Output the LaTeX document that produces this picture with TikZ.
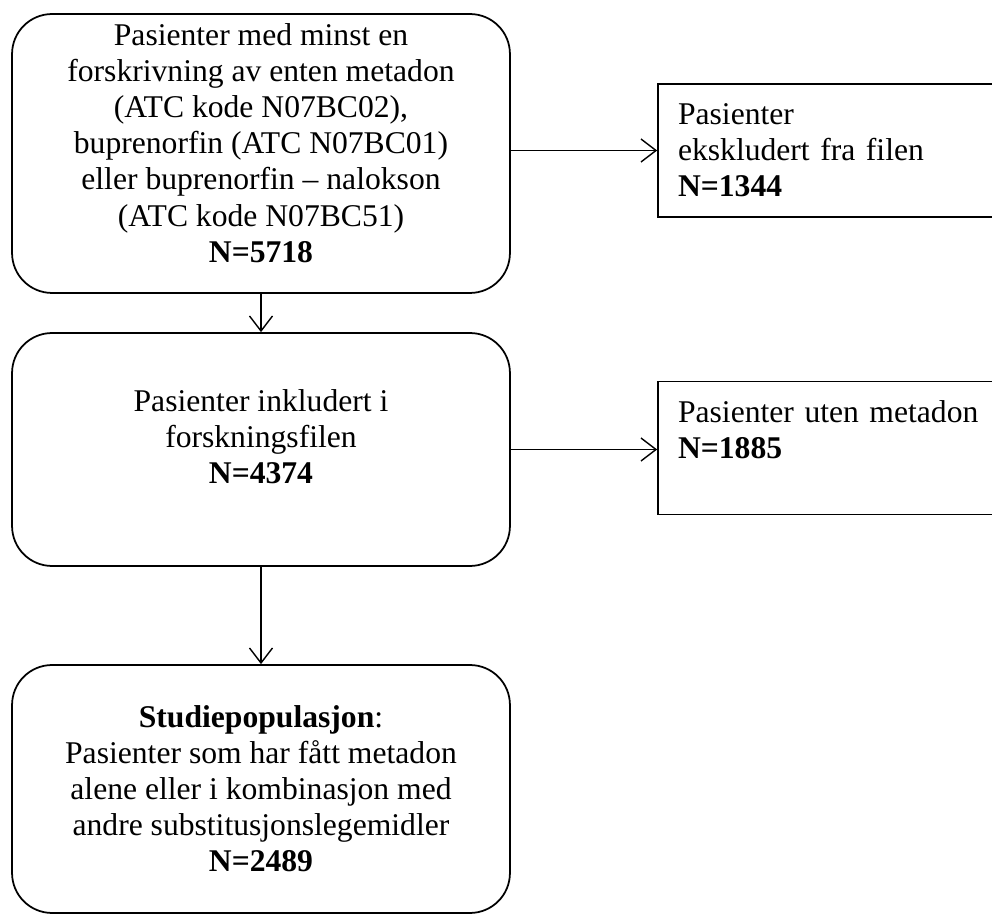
\documentclass[tikz,border=0pt]{standalone}
\usepackage{fontspec}
\setmainfont{Liberation Serif}
\usetikzlibrary{arrows.meta, positioning}
\tikzset{mainbox/.style={draw, line width=1pt, rounded corners=0.8cm, minimum width=9.96cm, align=center, font=\fontsize{18}{20.5}\selectfont},
         sidebox/.style={draw, line width=1pt, minimum height=2.66cm, inner xsep=0.4cm, text width=6.04cm, align=left, font=\fontsize{18}{20.5}\selectfont},
         arr/.style={-{Straight Barb[length=3mm,width=4.6mm]}, line width=0.8pt}}

\begin{document}
\begin{tikzpicture}[x=0.02cm, y=-0.02cm]
        \useasboundingbox (0,0) rectangle (992,915);

        \node[mainbox, minimum height=5.58cm, text depth=0.42cm](atc)at(261,153.5){Pasienter med minst  en\\ forskrivning av enten metadon\\ (ATC kode N07BC02),\\ buprenorfin (ATC  N07BC01)\\ eller buprenorfin -- nalokson\\ (ATC kode N07BC51)\\ \textbf{N=5718}};
        \node[mainbox, minimum height=4.66cm, text depth=0.5cm](incl)at(261,449.5){Pasienter inkludert i\\ forskningsfilen\\ \textbf{N=4374}};
        \node[mainbox, minimum height=4.96cm](study)at(261,789){\textbf{Studiepopulasjon}:\\ Pasienter som har fått  metadon\\ alene eller i kombinasjon med\\ andre substitusjonslegemidler\\ \textbf{N=2489}};

        \node[sidebox](excl)at(829,150.5){Pasienter\\ ekskludert fra filen\\ \textbf{N=1344}};
        \node[sidebox](nometh)at(829,448){Pasienter uten metadon\\ \textbf{N=1885}\\ \mbox{}};

        \draw[arr](atc.east |- excl.west)--(excl.west);
        \draw[arr](incl.east)--(incl.east -| nometh.west);
        \draw[arr](atc.south)--(incl.north);
        \draw[arr](incl.south)--(study.north);
    \end{tikzpicture}
\end{document}
